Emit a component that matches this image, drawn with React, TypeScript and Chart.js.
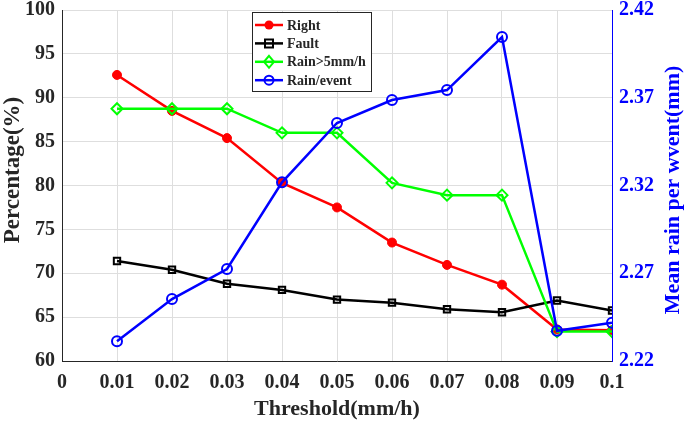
import React, { useEffect, useRef } from 'react';
import { Chart, registerables } from 'chart.js';

Chart.register(...registerables);

// ---- data ----
const thresholds = [0.01, 0.02, 0.03, 0.04, 0.05, 0.06, 0.07, 0.08, 0.09, 0.1];
const rightPct = [92.6, 88.5, 85.4, 80.3, 77.5, 73.5, 70.95, 68.7, 63.6, 63.5];
const faultPct = [71.4, 70.4, 68.8, 68.1, 67.0, 66.65, 65.9, 65.55, 66.9, 65.75];
const rainOver5Pct = [88.75, 88.75, 88.75, 86.0, 86.0, 80.3, 78.9, 78.9, 63.35, 63.35];
const rainPerEvent = [2.2313, 2.2553, 2.2724, 2.3218, 2.3556, 2.3687, 2.3744, 2.4046, 2.2372, 2.2418];

const xTicks = [0, 0.01, 0.02, 0.03, 0.04, 0.05, 0.06, 0.07, 0.08, 0.09, 0.1];
const xTickLabels = ['0', '0.01', '0.02', '0.03', '0.04', '0.05', '0.06', '0.07', '0.08', '0.09', '0.1'];
const leftTicks = [60, 65, 70, 75, 80, 85, 90, 95, 100];
const rightTicks = [2.22, 2.27, 2.32, 2.37, 2.42];
const rightTickLabels = ['2.22', '2.27', '2.32', '2.37', '2.42'];

const seriesNames = ['Right', 'Fault', 'Rain>5mm/h', 'Rain/event'];
const seriesColors = ['#ff0000', '#000000', '#00ff00', '#0000ff'];

const FONT = "'Liberation Serif', 'Times New Roman', serif";
const TEXT = '#262626';

function drawMarker(ctx: CanvasRenderingContext2D, style: string, x: number, y: number, color: string) {
  ctx.save();
  ctx.strokeStyle = color;
  ctx.fillStyle = color;
  ctx.lineWidth = 2;
  ctx.beginPath();
  if (style === 'filledCircle') {
    ctx.arc(x, y, 4.5, 0, Math.PI * 2);
    ctx.fill();
  } else if (style === 'rect') {
    ctx.rect(x - 4, y - 4, 8, 8);
    ctx.stroke();
  } else if (style === 'diamond') {
    ctx.moveTo(x, y - 6);
    ctx.lineTo(x + 5, y);
    ctx.lineTo(x, y + 6);
    ctx.lineTo(x - 5, y);
    ctx.closePath();
    ctx.stroke();
  } else {
    ctx.arc(x, y, 4.5, 0, Math.PI * 2);
    ctx.stroke();
  }
  ctx.restore();
}

const legendStyles = ['filledCircle', 'rect', 'diamond', 'circle'];

const overlayPlugin = {
  id: 'overlay',
  afterDraw(chart: any) {
    const ctx: CanvasRenderingContext2D = chart.ctx;
    const area = chart.chartArea;
    ctx.save();
    ctx.textAlign = 'center';
    ctx.textBaseline = 'middle';
    ctx.fillStyle = TEXT;
    ctx.font = `bold 22px ${FONT}`;
    ctx.fillText('Threshold(mm/h)', (area.left + area.right) / 2, 409);

    ctx.save();
    ctx.font = `bold 23px ${FONT}`;
    ctx.translate(13, 170);
    ctx.rotate(-Math.PI / 2);
    ctx.fillText('Percentage(%)', 0, 0);
    ctx.restore();

    ctx.save();
    ctx.font = `bold 22px ${FONT}`;
    ctx.fillStyle = '#0000ff';
    ctx.translate(673, 190);
    ctx.rotate(-Math.PI / 2);
    ctx.fillText('Mean rain per wvent(mm)', 0, 0);
    ctx.restore();

    // legend box
    const bx = 252.5, by = 12.5, bw = 119, bh = 79;
    ctx.fillStyle = '#ffffff';
    ctx.fillRect(bx, by, bw, bh);
    ctx.strokeStyle = '#262626';
    ctx.lineWidth = 1;
    ctx.strokeRect(bx, by, bw, bh);
    ctx.font = `bold 14px ${FONT}`;
    ctx.textAlign = 'left';
    chart.data.datasets.forEach((ds: any, i: number) => {
      const y = 25 + i * 18.4;
      ctx.strokeStyle = ds.borderColor;
      ctx.lineWidth = 2.5;
      ctx.beginPath();
      ctx.moveTo(255, y);
      ctx.lineTo(283, y);
      ctx.stroke();
      drawMarker(ctx, legendStyles[i], 269, y, ds.borderColor);
      ctx.fillStyle = TEXT;
      ctx.fillText(ds.label, 287, y + 1);
    });
    ctx.restore();
  },
};

export default function App() {
  const ref = useRef<HTMLCanvasElement | null>(null);
  useEffect(() => {
    if (!ref.current) return;
    const tickFont = { family: FONT, size: 20, weight: 'bold' as const, lineHeight: 1.0 };
    const mk = (arr: number[]) => thresholds.map((t, i) => ({ x: t, y: arr[i] }));
    const zeroPad = (s: any) => {
      s.paddingTop = 0; s.paddingBottom = 0; s.paddingLeft = 0; s.paddingRight = 0;
    };
    const chart = new Chart(ref.current, {
      type: 'line',
      data: {
        datasets: [
          {
            label: seriesNames[0], data: mk(rightPct), yAxisID: 'y',
            borderColor: seriesColors[0], backgroundColor: seriesColors[0],
            borderWidth: 2.5, pointStyle: 'circle', pointRadius: 4.5, pointBorderWidth: 1, order: 3,
          },
          {
            label: seriesNames[1], data: mk(faultPct), yAxisID: 'y',
            borderColor: seriesColors[1], backgroundColor: 'rgba(0,0,0,0)',
            borderWidth: 2.5, pointStyle: 'rect', pointRadius: 4.5, pointBorderWidth: 2, order: 2,
          },
          {
            label: seriesNames[2], data: mk(rainOver5Pct), yAxisID: 'y',
            borderColor: seriesColors[2], backgroundColor: 'rgba(0,0,0,0)',
            borderWidth: 2.5, pointStyle: 'rectRot', pointRadius: 5.5, pointBorderWidth: 2, order: 1,
          },
          {
            label: seriesNames[3], data: mk(rainPerEvent), yAxisID: 'y1',
            borderColor: seriesColors[3], backgroundColor: 'rgba(0,0,0,0)',
            borderWidth: 2.5, pointStyle: 'circle', pointRadius: 5, pointBorderWidth: 2, order: 0,
          },
        ],
      },
      options: {
        animation: false,
        responsive: true,
        maintainAspectRatio: false,
        layout: { padding: { top: 10, left: 0, right: 0, bottom: 0 } },
        plugins: { legend: { display: false }, tooltip: { enabled: false } },
        scales: {
          x: {
            type: 'linear', min: 0, max: 0.1,
            afterBuildTicks: (s: any) => { s.ticks = xTicks.map((v) => ({ value: v })); },
            afterFit: (s: any) => { s.height = 63; zeroPad(s); },
            ticks: {
              autoSkip: false, maxRotation: 0, padding: 12, color: TEXT, font: tickFont,
              callback: (_v: any, i: number) => xTickLabels[i],
            },
            grid: { color: '#dedede', drawTicks: false },
            border: { color: '#262626', width: 1 },
          },
          y: {
            type: 'linear', position: 'left', min: 60, max: 100,
            afterBuildTicks: (s: any) => { s.ticks = leftTicks.map((v) => ({ value: v })); },
            afterFit: (s: any) => { s.width = 62; zeroPad(s); },
            ticks: { padding: 7, color: TEXT, font: tickFont, callback: (v: any) => String(v) },
            grid: { color: '#dedede', drawTicks: false },
            border: { color: '#262626', width: 1 },
          },
          y1: {
            type: 'linear', position: 'right', min: 2.22, max: 2.42,
            afterBuildTicks: (s: any) => { s.ticks = rightTicks.map((v) => ({ value: v })); },
            afterFit: (s: any) => { s.width = 73; zeroPad(s); },
            ticks: {
              padding: 7, color: '#0000ff', font: tickFont,
              callback: (_v: any, i: number) => rightTickLabels[i],
            },
            grid: { drawOnChartArea: false, drawTicks: false },
            border: { color: '#0000ff', width: 1 },
          },
        },
      },
      plugins: [overlayPlugin],
    } as any);
    return () => chart.destroy();
  }, []);
  return (
    <div style={{ position: 'absolute', left: 0, top: 0, width: 685, height: 424, background: '#fff' }}>
      <canvas ref={ref} />
    </div>
  );
}
